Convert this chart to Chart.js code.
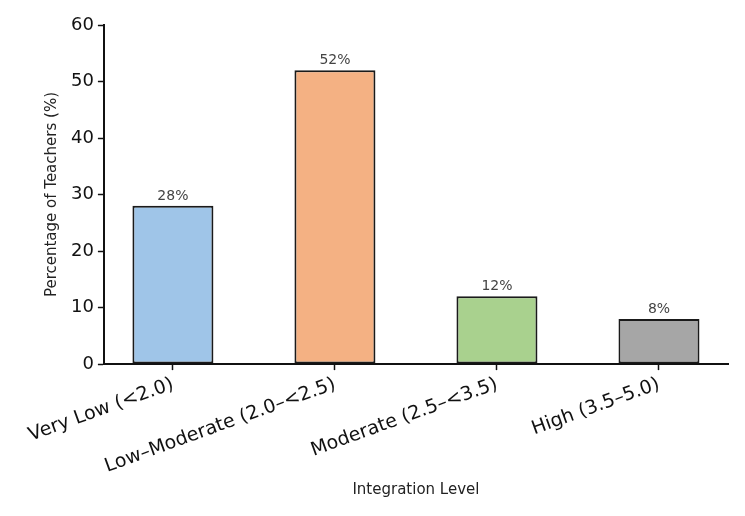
<!DOCTYPE html>
<html lang="en">
<head>
    <meta charset="UTF-8">
    <title>Integration Level of Teachers</title>
    <script src="https://cdn.jsdelivr.net/npm/chart.js"></script>
    <style>
        body {
            margin: 0;
            background: #ffffff;
        }
        .chart-box {
            width: 745px;
            height: 516px;
        }
    </style>
</head>
<body>
    <div class="chart-box">
        <canvas id="levelChart"></canvas>
    </div>

    <script>
        const categories = ['Very Low (<2.0)', 'Low\u2013Moderate (2.0\u2013<2.5)', 'Moderate (2.5\u2013<3.5)', 'High (3.5\u20135.0)'];
        const percentages = [28, 52, 12, 8];
        const barColors = ['#9fc5e8', '#f4b183', '#a9d18e', '#a6a6a6'];
        const yTicks = [0, 10, 20, 30, 40, 50, 60];

        const fontFamily = "'DejaVu Sans', sans-serif";

        // percent labels above each bar
        const valueLabels = {
            id: 'valueLabels',
            afterDatasetsDraw(chart) {
                const ctx = chart.ctx;
                const meta = chart.getDatasetMeta(0);
                ctx.save();
                ctx.font = `14px ${fontFamily}`;
                ctx.fillStyle = '#444444';
                ctx.textAlign = 'center';
                ctx.textBaseline = 'bottom';
                meta.data.forEach((bar, i) => {
                    ctx.fillText(`${percentages[i]}%`, bar.x, bar.y - 3);
                });
                ctx.restore();
            }
        };

        new Chart(document.getElementById('levelChart'), {
            type: 'bar',
            data: {
                datasets: [{
                    data: percentages.map((v, i) => ({ x: i, y: v })),
                    backgroundColor: barColors,
                    borderColor: '#1a1a1a',
                    borderWidth: 2,
                    borderSkipped: false,
                    barPercentage: 0.5,
                    categoryPercentage: 1.0,
                }],
            },
            options: {
                responsive: true,
                maintainAspectRatio: false,
                animation: false,
                layout: { padding: { left: 39, right: 17, top: 25, bottom: 13 } },
                plugins: {
                    legend: { display: false },
                    tooltip: { enabled: false },
                },
                scales: {
                    x: {
                        type: 'linear',
                        offset: false,
                        min: -0.426,
                        max: 3.426,
                        afterBuildTicks: (scale) => {
                            scale.ticks = categories.map((_, i) => ({ value: i }));
                        },
                        ticks: {
                            callback: (value) => categories[value],
                            color: '#111111',
                            font: { family: fontFamily, size: 19 },
                            autoSkip: false,
                            minRotation: 20,
                            maxRotation: 20,
                            padding: 3,
                        },
                        grid: {
                            offset: false,
                            drawOnChartArea: false,
                            drawTicks: true,
                            tickLength: 6,
                            tickWidth: 1.5,
                            color: '#111111',
                        },
                        border: { color: '#111111', width: 2 },
                        title: {
                            display: true,
                            text: 'Integration Level',
                            color: '#222222',
                            font: { family: fontFamily, size: 15 },
                            padding: { top: 0 },
                        },
                    },
                    y: {
                        min: 0,
                        max: 60,
                        afterBuildTicks: (scale) => {
                            scale.ticks = yTicks.map(v => ({ value: v }));
                        },
                        ticks: {
                            color: '#111111',
                            font: { family: fontFamily, size: 18 },
                            padding: 4,
                        },
                        grid: {
                            drawOnChartArea: false,
                            drawTicks: true,
                            tickLength: 6,
                            tickWidth: 1.5,
                            color: '#111111',
                        },
                        border: { color: '#111111', width: 2 },
                        title: {
                            display: true,
                            text: 'Percentage of Teachers (%)',
                            color: '#222222',
                            font: { family: fontFamily, size: 15 },
                            padding: { bottom: 6 },
                        },
                    },
                },
            },
            plugins: [valueLabels],
        });
    </script>
</body>
</html>
